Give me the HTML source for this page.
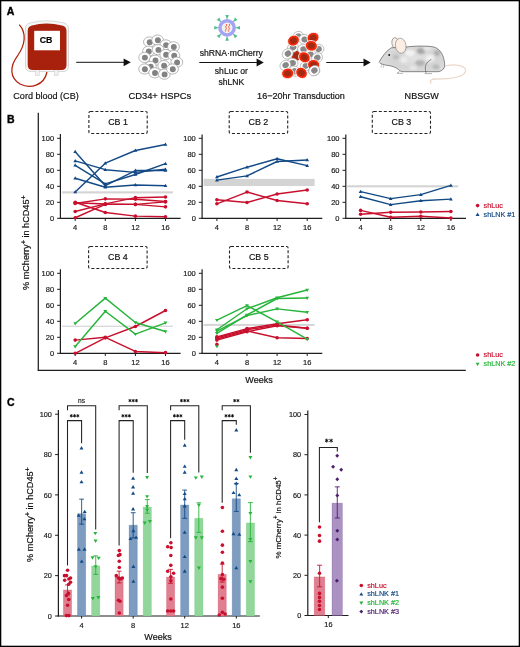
<!DOCTYPE html>
<html><head><meta charset="utf-8"><style>
html,body{margin:0;padding:0;background:#fff;}
svg{display:block;will-change:transform;}
text{font-family:"Liberation Sans",sans-serif;}
</style></head><body>
<svg width="520" height="647" viewBox="0 0 520 647">
<rect x="0.65" y="0.65" width="518.7" height="645.7" fill="#fff" stroke="#000" stroke-width="1.3"/>
<text x="6.8" y="15.2" font-size="10.5" text-anchor="start" fill="#000" font-weight="bold" stroke="#000" stroke-width="0.35" >A</text>
<text x="6.9" y="122.8" font-size="10.5" text-anchor="start" fill="#000" font-weight="bold" stroke="#000" stroke-width="0.35" >B</text>
<text x="6.9" y="406.1" font-size="10.5" text-anchor="start" fill="#000" font-weight="bold" stroke="#000" stroke-width="0.35" >C</text>
<g>
<path d="M19.2 24.6 C27 33 25 45 18 55 C9 67 10 78 20 84 C30 89 44 86 47 72" fill="none" stroke="#b0200c" stroke-width="1.25"/>
<path d="M25.5 29 Q25.5 24 30 23 Q46 18.5 64 23 Q68.5 24 68.5 29 L68.5 66 Q68.5 71.5 63 71.5 L31 71.5 Q25.5 71.5 25.5 66 Z" fill="#f6f6f6" stroke="#d4d4d4" stroke-width="0.9"/>
<rect x="35.6" y="69.5" width="3.6" height="6" fill="#f0f0f0" stroke="#cfcfcf" stroke-width="0.6"/>
<rect x="54.6" y="69.5" width="3.6" height="6" fill="#f0f0f0" stroke="#cfcfcf" stroke-width="0.6"/>
<path d="M27.7 31 Q27.7 26.3 32 25.4 Q46 21.8 62 25.4 Q66.5 26.3 66.5 31 L66.5 65 Q66.5 70 61.5 70 L32.7 70 Q27.7 70 27.7 65 Z" fill="#a8210c"/>
<rect x="34.2" y="30.8" width="25.8" height="19.5" fill="#fff"/>
<text x="46.1" y="43" font-size="8.8" text-anchor="middle" fill="#000" font-weight="bold" stroke="#000" stroke-width="0.18" >CB</text>
</g>
<line x1="76.2" y1="62.3" x2="124.8" y2="62.3" stroke="#111" stroke-width="1.0" />
<path d="M123.6 58.4L130.8 62.3L123.6 66.2Z" fill="#111"/>
<line x1="199.3" y1="62.5" x2="257.8" y2="62.5" stroke="#111" stroke-width="1.0" />
<path d="M256.6 58.6L263.8 62.5L256.6 66.4Z" fill="#111"/>
<line x1="326.3" y1="62.5" x2="364.7" y2="62.5" stroke="#111" stroke-width="1.0" />
<path d="M363.5 58.6L370.7 62.5L363.5 66.4Z" fill="#111"/>
<g>
<ellipse cx="149.4" cy="42" rx="5.9" ry="5.1" fill="#fff" stroke="#9a9a9a" stroke-width="0.7"/>
<circle cx="149.7" cy="42.2" r="2.95" fill="#828282"/>
<ellipse cx="157.6" cy="40.1" rx="5.9" ry="5.1" fill="#fff" stroke="#9a9a9a" stroke-width="0.7"/>
<circle cx="157.9" cy="40.3" r="2.95" fill="#828282"/>
<ellipse cx="165.8" cy="44.9" rx="5.9" ry="5.1" fill="#fff" stroke="#9a9a9a" stroke-width="0.7"/>
<circle cx="166.1" cy="45.1" r="2.95" fill="#828282"/>
<ellipse cx="173.5" cy="46.8" rx="5.9" ry="5.1" fill="#fff" stroke="#9a9a9a" stroke-width="0.7"/>
<circle cx="173.8" cy="47" r="2.95" fill="#828282"/>
<ellipse cx="148.5" cy="51.2" rx="5.9" ry="5.1" fill="#fff" stroke="#9a9a9a" stroke-width="0.7"/>
<circle cx="148.8" cy="51.4" r="2.95" fill="#828282"/>
<ellipse cx="158.1" cy="49.7" rx="5.9" ry="5.1" fill="#fff" stroke="#9a9a9a" stroke-width="0.7"/>
<circle cx="158.4" cy="49.9" r="2.95" fill="#828282"/>
<ellipse cx="165.8" cy="54.5" rx="5.9" ry="5.1" fill="#fff" stroke="#9a9a9a" stroke-width="0.7"/>
<circle cx="166.1" cy="54.7" r="2.95" fill="#828282"/>
<ellipse cx="173.9" cy="55.5" rx="5.9" ry="5.1" fill="#fff" stroke="#9a9a9a" stroke-width="0.7"/>
<circle cx="174.2" cy="55.7" r="2.95" fill="#828282"/>
<ellipse cx="144.6" cy="57.4" rx="5.9" ry="5.1" fill="#fff" stroke="#9a9a9a" stroke-width="0.7"/>
<circle cx="144.9" cy="57.6" r="2.95" fill="#828282"/>
<ellipse cx="155.2" cy="60.3" rx="5.9" ry="5.1" fill="#fff" stroke="#9a9a9a" stroke-width="0.7"/>
<circle cx="155.5" cy="60.5" r="2.95" fill="#828282"/>
<ellipse cx="163.8" cy="65.6" rx="5.9" ry="5.1" fill="#fff" stroke="#9a9a9a" stroke-width="0.7"/>
<circle cx="164.1" cy="65.8" r="2.95" fill="#828282"/>
<ellipse cx="176.8" cy="62.2" rx="5.9" ry="5.1" fill="#fff" stroke="#9a9a9a" stroke-width="0.7"/>
<circle cx="177.1" cy="62.4" r="2.95" fill="#828282"/>
<ellipse cx="150.4" cy="66.5" rx="5.9" ry="5.1" fill="#fff" stroke="#9a9a9a" stroke-width="0.7"/>
<circle cx="150.7" cy="66.7" r="2.95" fill="#828282"/>
<ellipse cx="144.6" cy="69" rx="5.9" ry="5.1" fill="#fff" stroke="#9a9a9a" stroke-width="0.7"/>
<circle cx="144.9" cy="69.2" r="2.95" fill="#828282"/>
<ellipse cx="154.7" cy="72.8" rx="5.9" ry="5.1" fill="#fff" stroke="#9a9a9a" stroke-width="0.7"/>
<circle cx="155" cy="73" r="2.95" fill="#828282"/>
<ellipse cx="164.3" cy="74.2" rx="5.9" ry="5.1" fill="#fff" stroke="#9a9a9a" stroke-width="0.7"/>
<circle cx="164.6" cy="74.4" r="2.95" fill="#828282"/>
<ellipse cx="172.5" cy="69" rx="5.9" ry="5.1" fill="#fff" stroke="#9a9a9a" stroke-width="0.7"/>
<circle cx="172.8" cy="69.2" r="2.95" fill="#828282"/>
</g>
<path d="M227.1 19.8L228.9 14.9L225.3 14.9Z" fill="#52c08e"/>
<path d="M232.76 22.14L237.49 19.95L234.95 17.41Z" fill="#52c08e"/>
<path d="M235.1 27.8L240 29.6L240 26Z" fill="#52c08e"/>
<path d="M232.76 33.46L234.95 38.19L237.49 35.65Z" fill="#52c08e"/>
<path d="M227.1 35.8L225.3 40.7L228.9 40.7Z" fill="#52c08e"/>
<path d="M221.44 33.46L216.71 35.65L219.25 38.19Z" fill="#52c08e"/>
<path d="M219.1 27.8L214.2 26L214.2 29.6Z" fill="#52c08e"/>
<path d="M221.44 22.14L219.25 17.41L216.71 19.95Z" fill="#52c08e"/>
<circle cx="227.1" cy="27.8" r="8.9" fill="#a4a4f4"/>
<circle cx="227.1" cy="27.8" r="5.4" fill="#f3f0ec"/>
<path d="M226.3 24 q1.1 0.95 -0.15 1.9 q-1.1 0.95 -0.15 1.9 q1.1 0.95 -0.15 1.9 q-1.1 0.95 -0.15 1.9" fill="none" stroke="#ee4b2b" stroke-width="0.9"/>
<path d="M229.3 24 q1.1 0.95 -0.15 1.9 q-1.1 0.95 -0.15 1.9 q1.1 0.95 -0.15 1.9 q-1.1 0.95 -0.15 1.9" fill="none" stroke="#ee4b2b" stroke-width="0.9"/>
<text x="231.3" y="55.6" font-size="8.6" text-anchor="middle" fill="#111" stroke="#111" stroke-width="0.18" >shRNA·mCherry</text>
<text x="231.3" y="73.8" font-size="8.6" text-anchor="middle" fill="#111" stroke="#111" stroke-width="0.18" >shLuc or</text>
<text x="231.3" y="84.6" font-size="8.6" text-anchor="middle" fill="#111" stroke="#111" stroke-width="0.18" >shLNK</text>
<g transform="translate(296.9 55.6) rotate(-14.09)"><ellipse rx="6.1" ry="5.3" fill="#c8280c" stroke="#fff" stroke-width="0.8"/><ellipse rx="3.5" ry="3" fill="#a12a12"/></g>
<g transform="translate(298 36.5) rotate(-27.93)"><ellipse rx="5.7" ry="4.9" fill="#fff" stroke="#9c9c9c" stroke-width="0.6"/><ellipse cx="0.3" rx="3.3" ry="3" fill="#888"/></g>
<g transform="translate(304.4 39.4) rotate(12.07)"><ellipse rx="5.7" ry="4.9" fill="#fff" stroke="#9c9c9c" stroke-width="0.6"/><ellipse cx="0.3" rx="3.3" ry="3" fill="#888"/></g>
<g transform="translate(292.9 47.5) rotate(-34.21)"><ellipse rx="5.7" ry="4.9" fill="#fff" stroke="#9c9c9c" stroke-width="0.6"/><ellipse cx="0.3" rx="3.3" ry="3" fill="#888"/></g>
<g transform="translate(303.3 49.2) rotate(2.87)"><ellipse rx="5.7" ry="4.9" fill="#fff" stroke="#9c9c9c" stroke-width="0.6"/><ellipse cx="0.3" rx="3.3" ry="3" fill="#888"/></g>
<g transform="translate(318.3 49.2) rotate(-10.74)"><ellipse rx="5.7" ry="4.9" fill="#fff" stroke="#9c9c9c" stroke-width="0.6"/><ellipse cx="0.3" rx="3.3" ry="3" fill="#888"/></g>
<g transform="translate(287.7 53.8) rotate(-35.36)"><ellipse rx="5.7" ry="4.9" fill="#fff" stroke="#9c9c9c" stroke-width="0.6"/><ellipse cx="0.3" rx="3.3" ry="3" fill="#888"/></g>
<g transform="translate(310.2 54.4) rotate(0.59)"><ellipse rx="5.7" ry="4.9" fill="#fff" stroke="#9c9c9c" stroke-width="0.6"/><ellipse cx="0.3" rx="3.3" ry="3" fill="#888"/></g>
<g transform="translate(317.1 57.9) rotate(-37)"><ellipse rx="5.7" ry="4.9" fill="#fff" stroke="#9c9c9c" stroke-width="0.6"/><ellipse cx="0.3" rx="3.3" ry="3" fill="#888"/></g>
<g transform="translate(292.3 63.1) rotate(-5.31)"><ellipse rx="5.7" ry="4.9" fill="#fff" stroke="#9c9c9c" stroke-width="0.6"/><ellipse cx="0.3" rx="3.3" ry="3" fill="#888"/></g>
<g transform="translate(285.4 65.4) rotate(-34.41)"><ellipse rx="5.7" ry="4.9" fill="#fff" stroke="#9c9c9c" stroke-width="0.6"/><ellipse cx="0.3" rx="3.3" ry="3" fill="#888"/></g>
<g transform="translate(305.6 66) rotate(-32.74)"><ellipse rx="5.7" ry="4.9" fill="#fff" stroke="#9c9c9c" stroke-width="0.6"/><ellipse cx="0.3" rx="3.3" ry="3" fill="#888"/></g>
<g transform="translate(314.2 70.6) rotate(-6.04)"><ellipse rx="5.7" ry="4.9" fill="#fff" stroke="#9c9c9c" stroke-width="0.6"/><ellipse cx="0.3" rx="3.3" ry="3" fill="#888"/></g>
<g transform="translate(294.6 71.1) rotate(26.15)"><ellipse rx="5.7" ry="4.9" fill="#fff" stroke="#9c9c9c" stroke-width="0.6"/><ellipse cx="0.3" rx="3.3" ry="3" fill="#888"/></g>
<g transform="translate(293.5 40.6) rotate(-30.1)"><ellipse rx="6.1" ry="5.3" fill="#f5280a" stroke="#fff" stroke-width="0.8"/><ellipse rx="3.5" ry="3" fill="#a12a12"/></g>
<g transform="translate(313 37.7) rotate(-22.14)"><ellipse rx="6.1" ry="5.3" fill="#f5280a" stroke="#fff" stroke-width="0.8"/><ellipse rx="3.5" ry="3" fill="#a12a12"/></g>
<g transform="translate(311.3 45.8) rotate(10.19)"><ellipse rx="6.1" ry="5.3" fill="#f5280a" stroke="#fff" stroke-width="0.8"/><ellipse rx="3.5" ry="3" fill="#a12a12"/></g>
<g transform="translate(304.4 57.3) rotate(35.82)"><ellipse rx="6.1" ry="5.3" fill="#f5280a" stroke="#fff" stroke-width="0.8"/><ellipse rx="3.5" ry="3" fill="#a12a12"/></g>
<g transform="translate(313.6 64.8) rotate(6.17)"><ellipse rx="6.1" ry="5.3" fill="#f5280a" stroke="#fff" stroke-width="0.8"/><ellipse rx="3.5" ry="3" fill="#a12a12"/></g>
<g transform="translate(287.7 73.4) rotate(-8.27)"><ellipse rx="6.1" ry="5.3" fill="#f5280a" stroke="#fff" stroke-width="0.8"/><ellipse rx="3.5" ry="3" fill="#a12a12"/></g>
<g transform="translate(301.5 72.9) rotate(38.1)"><ellipse rx="6.1" ry="5.3" fill="#f5280a" stroke="#fff" stroke-width="0.8"/><ellipse rx="3.5" ry="3" fill="#a12a12"/></g>
<g transform="translate(314.2 70.6) rotate(-36.27)"><ellipse rx="5.7" ry="4.9" fill="#fff" stroke="#9c9c9c" stroke-width="0.6"/><ellipse cx="0.3" rx="3.3" ry="3" fill="#888"/></g>
<g>
<path d="M443 66.5 C455 63 468 66 465.3 72 C462.5 78 450 79 436 79 C431 79 429 81 431 83" fill="none" stroke="#ecd8ca" stroke-width="1.3" stroke-linecap="round"/>
<ellipse cx="395.8" cy="43.6" rx="3.8" ry="6" transform="rotate(-14 395.8 43.6)" fill="#fbefe6" stroke="#555" stroke-width="0.5"/>
<defs><radialGradient id="mg" cx="0.55" cy="0.5" r="0.6"><stop offset="0" stop-color="#e2e2e2"/><stop offset="0.6" stop-color="#d4d4d4"/><stop offset="1" stop-color="#dedede"/></radialGradient><filter id="bl" x="-0.2" y="-0.2" width="1.4" height="1.4"><feGaussianBlur stdDeviation="1.1"/></filter><clipPath id="mc"><path d="M379 62.3 C382 57 386 51 391.2 47.8 L405.8 47.1 C412 46 428 45.5 434.2 47.1 C440 49 444 55 444.6 63.7 C445 68 443 71 438 71.7 L403.7 71.7 C400 71.7 399 70 398.2 69.2 C395 67 392 66 388 65.5 C384 65 381 64 379 62.3 Z"/></clipPath></defs>
<path d="M379 62.3 C382 57 386 51 391.2 47.8 L405.8 47.1 C412 46 428 45.5 434.2 47.1 C440 49 444 55 444.6 63.7 C445 68 443 71 438 71.7 L403.7 71.7 C400 71.7 399 70 398.2 69.2 C395 67 392 66 388 65.5 C384 65 381 64 379 62.3 Z" fill="url(#mg)"/>
<g clip-path="url(#mc)"><g filter="url(#bl)">
<ellipse cx="410" cy="53" rx="5" ry="3.5" fill="#f2f2f2"/>
<ellipse cx="421" cy="51" rx="4" ry="3" fill="#a6a6a6"/>
<ellipse cx="430" cy="58" rx="4.5" ry="3.5" fill="#f0f0f0"/>
<ellipse cx="420" cy="63" rx="5" ry="3" fill="#b2b2b2"/>
<ellipse cx="404" cy="60" rx="3.5" ry="3" fill="#ececec"/>
<ellipse cx="437" cy="53" rx="3" ry="3" fill="#b0b0b0"/>
<ellipse cx="413" cy="68" rx="4" ry="2.2" fill="#e6e6e6"/>
<ellipse cx="436" cy="67" rx="3.5" ry="2.5" fill="#b8b8b8"/>
<ellipse cx="396" cy="57" rx="3" ry="2.5" fill="#bdbdbd"/>
<ellipse cx="427" cy="48.5" rx="4" ry="2" fill="#e8e8e8"/>
</g></g>
<path d="M379 62.3 C382 57 386 51 391.2 47.8 L405.8 47.1 C412 46 428 45.5 434.2 47.1 C440 49 444 55 444.6 63.7 C445 68 443 71 438 71.7 L403.7 71.7 C400 71.7 399 70 398.2 69.2 C395 67 392 66 388 65.5 C384 65 381 64 379 62.3 Z" fill="none" stroke="#333" stroke-width="0.55"/>
<path d="M425.9 72 C424.5 67 425.5 62 431.4 59.5" fill="none" stroke="#333" stroke-width="0.5"/>
<path d="M399.5 71.5 L397 73.3 L403 73.3" fill="none" stroke="#666" stroke-width="0.5"/>
<path d="M426.5 72 L425 73.6 L432 73.6" fill="none" stroke="#666" stroke-width="0.5"/>
<ellipse cx="400.7" cy="45.7" rx="5.3" ry="7.6" transform="rotate(-8 400.7 45.7)" fill="#fdeee4" stroke="#666" stroke-width="0.5"/>
<circle cx="389.2" cy="55" r="0.95" fill="#111"/>
<circle cx="379.2" cy="62.5" r="0.8" fill="#f0cfc2"/>
<path d="M381.6 63.8 L381 67.8 M383.4 64.2 L383.3 68.3" stroke="#888" stroke-width="0.45"/>
</g>
<text x="46" y="99" font-size="9.05" text-anchor="middle" fill="#111" stroke="#111" stroke-width="0.18" >Cord blood (CB)</text>
<text x="159.8" y="99" font-size="9.4" text-anchor="middle" fill="#111" stroke="#111" stroke-width="0.18" >CD34+ HSPCs</text>
<text x="301" y="99" font-size="9.05" text-anchor="middle" fill="#111" stroke="#111" stroke-width="0.18" >16−20hr Transduction</text>
<text x="421.7" y="99" font-size="9.05" text-anchor="middle" fill="#111" stroke="#111" stroke-width="0.18" >NBSGW</text>
<rect x="88.9" y="111.5" width="58.3" height="22" rx="1.5" fill="none" stroke="#222" stroke-width="1.1" stroke-dasharray="3 2"/>
<text x="118.05" y="125.1" font-size="8.9" text-anchor="middle" fill="#111" stroke="#111" stroke-width="0.18" >CB 1</text>
<rect x="61.9" y="191.33" width="111" height="2.1" fill="#d4d4d4"/>
<line x1="60.4" y1="134" x2="60.4" y2="218.9" stroke="#1e1e1e" stroke-width="1.2" />
<line x1="59.8" y1="218.3" x2="180.6" y2="218.3" stroke="#1e1e1e" stroke-width="1.2" />
<line x1="57.1" y1="218.3" x2="60.4" y2="218.3" stroke="#1e1e1e" stroke-width="1.0" />
<text x="54.1" y="221" font-size="7.5" text-anchor="end" fill="#1a1a1a" stroke="#1a1a1a" stroke-width="0.18" >0</text>
<line x1="57.1" y1="202.3" x2="60.4" y2="202.3" stroke="#1e1e1e" stroke-width="1.0" />
<text x="54.1" y="205" font-size="7.5" text-anchor="end" fill="#1a1a1a" stroke="#1a1a1a" stroke-width="0.18" >20</text>
<line x1="57.1" y1="186.3" x2="60.4" y2="186.3" stroke="#1e1e1e" stroke-width="1.0" />
<text x="54.1" y="189" font-size="7.5" text-anchor="end" fill="#1a1a1a" stroke="#1a1a1a" stroke-width="0.18" >40</text>
<line x1="57.1" y1="170.3" x2="60.4" y2="170.3" stroke="#1e1e1e" stroke-width="1.0" />
<text x="54.1" y="173" font-size="7.5" text-anchor="end" fill="#1a1a1a" stroke="#1a1a1a" stroke-width="0.18" >60</text>
<line x1="57.1" y1="154.3" x2="60.4" y2="154.3" stroke="#1e1e1e" stroke-width="1.0" />
<text x="54.1" y="157" font-size="7.5" text-anchor="end" fill="#1a1a1a" stroke="#1a1a1a" stroke-width="0.18" >80</text>
<line x1="57.1" y1="138.3" x2="60.4" y2="138.3" stroke="#1e1e1e" stroke-width="1.0" />
<text x="54.1" y="141" font-size="7.5" text-anchor="end" fill="#1a1a1a" stroke="#1a1a1a" stroke-width="0.18" >100</text>
<line x1="75.2" y1="218.3" x2="75.2" y2="221" stroke="#1e1e1e" stroke-width="1.0" />
<text x="75.2" y="230" font-size="7.5" text-anchor="middle" fill="#1a1a1a" stroke="#1a1a1a" stroke-width="0.18" >4</text>
<line x1="105.3" y1="218.3" x2="105.3" y2="221" stroke="#1e1e1e" stroke-width="1.0" />
<text x="105.3" y="230" font-size="7.5" text-anchor="middle" fill="#1a1a1a" stroke="#1a1a1a" stroke-width="0.18" >8</text>
<line x1="135.4" y1="218.3" x2="135.4" y2="221" stroke="#1e1e1e" stroke-width="1.0" />
<text x="135.4" y="230" font-size="7.5" text-anchor="middle" fill="#1a1a1a" stroke="#1a1a1a" stroke-width="0.18" >12</text>
<line x1="165.5" y1="218.3" x2="165.5" y2="221" stroke="#1e1e1e" stroke-width="1.0" />
<text x="165.5" y="230" font-size="7.5" text-anchor="middle" fill="#1a1a1a" stroke="#1a1a1a" stroke-width="0.18" >16</text>
<path d="M75.2 202.3 L105.3 212.46 L135.4 216.14 L165.5 216.78" fill="none" stroke="#c8102e" stroke-width="1.45" stroke-linejoin="round"/>
<circle cx="75.2" cy="202.3" r="1.8" fill="#c8102e"/>
<circle cx="105.3" cy="212.46" r="1.8" fill="#c8102e"/>
<circle cx="135.4" cy="216.14" r="1.8" fill="#c8102e"/>
<circle cx="165.5" cy="216.78" r="1.8" fill="#c8102e"/>
<path d="M75.2 203.42 L105.3 198.86 L135.4 199.26 L165.5 201.5" fill="none" stroke="#c8102e" stroke-width="1.45" stroke-linejoin="round"/>
<circle cx="75.2" cy="203.42" r="1.8" fill="#c8102e"/>
<circle cx="105.3" cy="198.86" r="1.8" fill="#c8102e"/>
<circle cx="135.4" cy="199.26" r="1.8" fill="#c8102e"/>
<circle cx="165.5" cy="201.5" r="1.8" fill="#c8102e"/>
<path d="M75.2 211.5 L105.3 203.9 L135.4 197.66 L165.5 196.94" fill="none" stroke="#c8102e" stroke-width="1.45" stroke-linejoin="round"/>
<circle cx="75.2" cy="211.5" r="1.8" fill="#c8102e"/>
<circle cx="105.3" cy="203.9" r="1.8" fill="#c8102e"/>
<circle cx="135.4" cy="197.66" r="1.8" fill="#c8102e"/>
<circle cx="165.5" cy="196.94" r="1.8" fill="#c8102e"/>
<path d="M75.2 217.74 L105.3 204.38 L135.4 204.38 L165.5 206.86" fill="none" stroke="#c8102e" stroke-width="1.45" stroke-linejoin="round"/>
<circle cx="75.2" cy="217.74" r="1.8" fill="#c8102e"/>
<circle cx="105.3" cy="204.38" r="1.8" fill="#c8102e"/>
<circle cx="135.4" cy="204.38" r="1.8" fill="#c8102e"/>
<circle cx="165.5" cy="206.86" r="1.8" fill="#c8102e"/>
<path d="M75.2 202.7 L105.3 204.06 L135.4 204.38 L165.5 201.9" fill="none" stroke="#c8102e" stroke-width="1.45" stroke-linejoin="round"/>
<circle cx="75.2" cy="202.7" r="1.8" fill="#c8102e"/>
<circle cx="105.3" cy="204.06" r="1.8" fill="#c8102e"/>
<circle cx="135.4" cy="204.38" r="1.8" fill="#c8102e"/>
<circle cx="165.5" cy="201.9" r="1.8" fill="#c8102e"/>
<path d="M75.2 191.9 L105.3 163.18 L135.4 150.54 L165.5 144.54" fill="none" stroke="#134a86" stroke-width="1.45" stroke-linejoin="round"/>
<path d="M75.2 189.96L77.1 193.19L73.3 193.19Z" fill="#134a86"/>
<path d="M105.3 161.24L107.2 164.47L103.4 164.47Z" fill="#134a86"/>
<path d="M135.4 148.6L137.3 151.83L133.5 151.83Z" fill="#134a86"/>
<path d="M165.5 142.6L167.4 145.83L163.6 145.83Z" fill="#134a86"/>
<path d="M75.2 160.86 L105.3 169.66 L135.4 172.38 L165.5 169.34" fill="none" stroke="#134a86" stroke-width="1.45" stroke-linejoin="round"/>
<path d="M75.2 158.92L77.1 162.15L73.3 162.15Z" fill="#134a86"/>
<path d="M105.3 167.72L107.2 170.95L103.4 170.95Z" fill="#134a86"/>
<path d="M135.4 170.44L137.3 173.67L133.5 173.67Z" fill="#134a86"/>
<path d="M165.5 167.4L167.4 170.63L163.6 170.63Z" fill="#134a86"/>
<path d="M75.2 151.74 L105.3 185.66 L135.4 170.54 L165.5 170.54" fill="none" stroke="#134a86" stroke-width="1.45" stroke-linejoin="round"/>
<path d="M75.2 149.8L77.1 153.03L73.3 153.03Z" fill="#134a86"/>
<path d="M105.3 183.72L107.2 186.95L103.4 186.95Z" fill="#134a86"/>
<path d="M135.4 168.6L137.3 171.83L133.5 171.83Z" fill="#134a86"/>
<path d="M165.5 168.6L167.4 171.83L163.6 171.83Z" fill="#134a86"/>
<path d="M75.2 165.26 L105.3 183.9 L135.4 174.46 L165.5 163.66" fill="none" stroke="#134a86" stroke-width="1.45" stroke-linejoin="round"/>
<path d="M75.2 163.32L77.1 166.55L73.3 166.55Z" fill="#134a86"/>
<path d="M105.3 181.96L107.2 185.19L103.4 185.19Z" fill="#134a86"/>
<path d="M135.4 172.52L137.3 175.75L133.5 175.75Z" fill="#134a86"/>
<path d="M165.5 161.72L167.4 164.95L163.6 164.95Z" fill="#134a86"/>
<path d="M75.2 178.3 L105.3 187.26 L135.4 185.02 L165.5 185.66" fill="none" stroke="#134a86" stroke-width="1.45" stroke-linejoin="round"/>
<path d="M75.2 176.36L77.1 179.59L73.3 179.59Z" fill="#134a86"/>
<path d="M105.3 185.32L107.2 188.55L103.4 188.55Z" fill="#134a86"/>
<path d="M135.4 183.08L137.3 186.31L133.5 186.31Z" fill="#134a86"/>
<path d="M165.5 183.72L167.4 186.95L163.6 186.95Z" fill="#134a86"/>
<rect x="229.2" y="111.5" width="58.5" height="22" rx="1.5" fill="none" stroke="#222" stroke-width="1.1" stroke-dasharray="3 2"/>
<text x="258.45" y="125.1" font-size="8.9" text-anchor="middle" fill="#111" stroke="#111" stroke-width="0.18" >CB 2</text>
<rect x="203.6" y="178.86" width="111" height="7.12" fill="#d4d4d4"/>
<line x1="202.1" y1="134.4" x2="202.1" y2="218.9" stroke="#1e1e1e" stroke-width="1.2" />
<line x1="201.5" y1="218.3" x2="322.3" y2="218.3" stroke="#1e1e1e" stroke-width="1.2" />
<line x1="198.8" y1="218.3" x2="202.1" y2="218.3" stroke="#1e1e1e" stroke-width="1.0" />
<text x="195.8" y="221" font-size="7.5" text-anchor="end" fill="#1a1a1a" stroke="#1a1a1a" stroke-width="0.18" >0</text>
<line x1="198.8" y1="202.3" x2="202.1" y2="202.3" stroke="#1e1e1e" stroke-width="1.0" />
<text x="195.8" y="205" font-size="7.5" text-anchor="end" fill="#1a1a1a" stroke="#1a1a1a" stroke-width="0.18" >20</text>
<line x1="198.8" y1="186.3" x2="202.1" y2="186.3" stroke="#1e1e1e" stroke-width="1.0" />
<text x="195.8" y="189" font-size="7.5" text-anchor="end" fill="#1a1a1a" stroke="#1a1a1a" stroke-width="0.18" >40</text>
<line x1="198.8" y1="170.3" x2="202.1" y2="170.3" stroke="#1e1e1e" stroke-width="1.0" />
<text x="195.8" y="173" font-size="7.5" text-anchor="end" fill="#1a1a1a" stroke="#1a1a1a" stroke-width="0.18" >60</text>
<line x1="198.8" y1="154.3" x2="202.1" y2="154.3" stroke="#1e1e1e" stroke-width="1.0" />
<text x="195.8" y="157" font-size="7.5" text-anchor="end" fill="#1a1a1a" stroke="#1a1a1a" stroke-width="0.18" >80</text>
<line x1="198.8" y1="138.3" x2="202.1" y2="138.3" stroke="#1e1e1e" stroke-width="1.0" />
<text x="195.8" y="141" font-size="7.5" text-anchor="end" fill="#1a1a1a" stroke="#1a1a1a" stroke-width="0.18" >100</text>
<line x1="216.9" y1="218.3" x2="216.9" y2="221" stroke="#1e1e1e" stroke-width="1.0" />
<text x="216.9" y="230" font-size="7.5" text-anchor="middle" fill="#1a1a1a" stroke="#1a1a1a" stroke-width="0.18" >4</text>
<line x1="247" y1="218.3" x2="247" y2="221" stroke="#1e1e1e" stroke-width="1.0" />
<text x="247" y="230" font-size="7.5" text-anchor="middle" fill="#1a1a1a" stroke="#1a1a1a" stroke-width="0.18" >8</text>
<line x1="277.1" y1="218.3" x2="277.1" y2="221" stroke="#1e1e1e" stroke-width="1.0" />
<text x="277.1" y="230" font-size="7.5" text-anchor="middle" fill="#1a1a1a" stroke="#1a1a1a" stroke-width="0.18" >12</text>
<line x1="307.2" y1="218.3" x2="307.2" y2="221" stroke="#1e1e1e" stroke-width="1.0" />
<text x="307.2" y="230" font-size="7.5" text-anchor="middle" fill="#1a1a1a" stroke="#1a1a1a" stroke-width="0.18" >16</text>
<path d="M216.9 199.82 L247 202.54 L277.1 194.06 L307.2 190.06" fill="none" stroke="#c8102e" stroke-width="1.45" stroke-linejoin="round"/>
<circle cx="216.9" cy="199.82" r="1.8" fill="#c8102e"/>
<circle cx="247" cy="202.54" r="1.8" fill="#c8102e"/>
<circle cx="277.1" cy="194.06" r="1.8" fill="#c8102e"/>
<circle cx="307.2" cy="190.06" r="1.8" fill="#c8102e"/>
<path d="M216.9 203.82 L247 192.06 L277.1 200.54 L307.2 203.82" fill="none" stroke="#c8102e" stroke-width="1.45" stroke-linejoin="round"/>
<circle cx="216.9" cy="203.82" r="1.8" fill="#c8102e"/>
<circle cx="247" cy="192.06" r="1.8" fill="#c8102e"/>
<circle cx="277.1" cy="200.54" r="1.8" fill="#c8102e"/>
<circle cx="307.2" cy="203.82" r="1.8" fill="#c8102e"/>
<path d="M216.9 176.94 L247 167.18 L277.1 158.7 L307.2 165.66" fill="none" stroke="#134a86" stroke-width="1.45" stroke-linejoin="round"/>
<path d="M216.9 175L218.8 178.23L215 178.23Z" fill="#134a86"/>
<path d="M247 165.24L248.9 168.47L245.1 168.47Z" fill="#134a86"/>
<path d="M277.1 156.76L279 159.99L275.2 159.99Z" fill="#134a86"/>
<path d="M307.2 163.72L309.1 166.95L305.3 166.95Z" fill="#134a86"/>
<path d="M216.9 180.14 L247 175.9 L277.1 161.5 L307.2 159.98" fill="none" stroke="#134a86" stroke-width="1.45" stroke-linejoin="round"/>
<path d="M216.9 178.2L218.8 181.43L215 181.43Z" fill="#134a86"/>
<path d="M247 173.96L248.9 177.19L245.1 177.19Z" fill="#134a86"/>
<path d="M277.1 159.56L279 162.79L275.2 162.79Z" fill="#134a86"/>
<path d="M307.2 158.04L309.1 161.27L305.3 161.27Z" fill="#134a86"/>
<rect x="372.3" y="111.5" width="58.2" height="22" rx="1.5" fill="none" stroke="#222" stroke-width="1.1" stroke-dasharray="3 2"/>
<text x="401.4" y="125.1" font-size="8.9" text-anchor="middle" fill="#111" stroke="#111" stroke-width="0.18" >CB 3</text>
<rect x="347.3" y="185.25" width="111" height="2.1" fill="#d4d4d4"/>
<line x1="345.8" y1="134.4" x2="345.8" y2="218.9" stroke="#1e1e1e" stroke-width="1.2" />
<line x1="345.2" y1="218.3" x2="466" y2="218.3" stroke="#1e1e1e" stroke-width="1.2" />
<line x1="342.5" y1="218.3" x2="345.8" y2="218.3" stroke="#1e1e1e" stroke-width="1.0" />
<text x="339.5" y="221" font-size="7.5" text-anchor="end" fill="#1a1a1a" stroke="#1a1a1a" stroke-width="0.18" >0</text>
<line x1="342.5" y1="202.3" x2="345.8" y2="202.3" stroke="#1e1e1e" stroke-width="1.0" />
<text x="339.5" y="205" font-size="7.5" text-anchor="end" fill="#1a1a1a" stroke="#1a1a1a" stroke-width="0.18" >20</text>
<line x1="342.5" y1="186.3" x2="345.8" y2="186.3" stroke="#1e1e1e" stroke-width="1.0" />
<text x="339.5" y="189" font-size="7.5" text-anchor="end" fill="#1a1a1a" stroke="#1a1a1a" stroke-width="0.18" >40</text>
<line x1="342.5" y1="170.3" x2="345.8" y2="170.3" stroke="#1e1e1e" stroke-width="1.0" />
<text x="339.5" y="173" font-size="7.5" text-anchor="end" fill="#1a1a1a" stroke="#1a1a1a" stroke-width="0.18" >60</text>
<line x1="342.5" y1="154.3" x2="345.8" y2="154.3" stroke="#1e1e1e" stroke-width="1.0" />
<text x="339.5" y="157" font-size="7.5" text-anchor="end" fill="#1a1a1a" stroke="#1a1a1a" stroke-width="0.18" >80</text>
<line x1="342.5" y1="138.3" x2="345.8" y2="138.3" stroke="#1e1e1e" stroke-width="1.0" />
<text x="339.5" y="141" font-size="7.5" text-anchor="end" fill="#1a1a1a" stroke="#1a1a1a" stroke-width="0.18" >100</text>
<line x1="360.6" y1="218.3" x2="360.6" y2="221" stroke="#1e1e1e" stroke-width="1.0" />
<text x="360.6" y="230" font-size="7.5" text-anchor="middle" fill="#1a1a1a" stroke="#1a1a1a" stroke-width="0.18" >4</text>
<line x1="390.7" y1="218.3" x2="390.7" y2="221" stroke="#1e1e1e" stroke-width="1.0" />
<text x="390.7" y="230" font-size="7.5" text-anchor="middle" fill="#1a1a1a" stroke="#1a1a1a" stroke-width="0.18" >8</text>
<line x1="420.8" y1="218.3" x2="420.8" y2="221" stroke="#1e1e1e" stroke-width="1.0" />
<text x="420.8" y="230" font-size="7.5" text-anchor="middle" fill="#1a1a1a" stroke="#1a1a1a" stroke-width="0.18" >12</text>
<line x1="450.9" y1="218.3" x2="450.9" y2="221" stroke="#1e1e1e" stroke-width="1.0" />
<text x="450.9" y="230" font-size="7.5" text-anchor="middle" fill="#1a1a1a" stroke="#1a1a1a" stroke-width="0.18" >16</text>
<path d="M360.6 210.38 L390.7 217.18 L420.8 216.22 L450.9 218.06" fill="none" stroke="#c8102e" stroke-width="1.45" stroke-linejoin="round"/>
<circle cx="360.6" cy="210.38" r="1.8" fill="#c8102e"/>
<circle cx="390.7" cy="217.18" r="1.8" fill="#c8102e"/>
<circle cx="420.8" cy="216.22" r="1.8" fill="#c8102e"/>
<circle cx="450.9" cy="218.06" r="1.8" fill="#c8102e"/>
<path d="M360.6 214.22 L390.7 212.3 L420.8 212.06 L450.9 211.5" fill="none" stroke="#c8102e" stroke-width="1.45" stroke-linejoin="round"/>
<circle cx="360.6" cy="214.22" r="1.8" fill="#c8102e"/>
<circle cx="390.7" cy="212.3" r="1.8" fill="#c8102e"/>
<circle cx="420.8" cy="212.06" r="1.8" fill="#c8102e"/>
<circle cx="450.9" cy="211.5" r="1.8" fill="#c8102e"/>
<path d="M360.6 191.66 L390.7 198.62 L420.8 194.62 L450.9 185.34" fill="none" stroke="#134a86" stroke-width="1.45" stroke-linejoin="round"/>
<path d="M360.6 189.72L362.5 192.95L358.7 192.95Z" fill="#134a86"/>
<path d="M390.7 196.68L392.6 199.91L388.8 199.91Z" fill="#134a86"/>
<path d="M420.8 192.68L422.7 195.91L418.9 195.91Z" fill="#134a86"/>
<path d="M450.9 183.4L452.8 186.63L449 186.63Z" fill="#134a86"/>
<path d="M360.6 196.7 L390.7 204.62 L420.8 200.7 L450.9 199.1" fill="none" stroke="#134a86" stroke-width="1.45" stroke-linejoin="round"/>
<path d="M360.6 194.76L362.5 197.99L358.7 197.99Z" fill="#134a86"/>
<path d="M390.7 202.68L392.6 205.91L388.8 205.91Z" fill="#134a86"/>
<path d="M420.8 198.76L422.7 201.99L418.9 201.99Z" fill="#134a86"/>
<path d="M450.9 197.16L452.8 200.39L449 200.39Z" fill="#134a86"/>
<rect x="88.6" y="246.5" width="58.5" height="22" rx="1.5" fill="none" stroke="#222" stroke-width="1.1" stroke-dasharray="3 2"/>
<text x="117.85" y="260.1" font-size="8.9" text-anchor="middle" fill="#111" stroke="#111" stroke-width="0.18" >CB 4</text>
<rect x="61.9" y="325.66" width="111" height="1.2" fill="#d4d4d4"/>
<line x1="60.4" y1="269.2" x2="60.4" y2="353.9" stroke="#1e1e1e" stroke-width="1.2" />
<line x1="59.8" y1="353.3" x2="180.6" y2="353.3" stroke="#1e1e1e" stroke-width="1.2" />
<line x1="57.1" y1="353.3" x2="60.4" y2="353.3" stroke="#1e1e1e" stroke-width="1.0" />
<text x="54.1" y="356" font-size="7.5" text-anchor="end" fill="#1a1a1a" stroke="#1a1a1a" stroke-width="0.18" >0</text>
<line x1="57.1" y1="337.3" x2="60.4" y2="337.3" stroke="#1e1e1e" stroke-width="1.0" />
<text x="54.1" y="340" font-size="7.5" text-anchor="end" fill="#1a1a1a" stroke="#1a1a1a" stroke-width="0.18" >20</text>
<line x1="57.1" y1="321.3" x2="60.4" y2="321.3" stroke="#1e1e1e" stroke-width="1.0" />
<text x="54.1" y="324" font-size="7.5" text-anchor="end" fill="#1a1a1a" stroke="#1a1a1a" stroke-width="0.18" >40</text>
<line x1="57.1" y1="305.3" x2="60.4" y2="305.3" stroke="#1e1e1e" stroke-width="1.0" />
<text x="54.1" y="308" font-size="7.5" text-anchor="end" fill="#1a1a1a" stroke="#1a1a1a" stroke-width="0.18" >60</text>
<line x1="57.1" y1="289.3" x2="60.4" y2="289.3" stroke="#1e1e1e" stroke-width="1.0" />
<text x="54.1" y="292" font-size="7.5" text-anchor="end" fill="#1a1a1a" stroke="#1a1a1a" stroke-width="0.18" >80</text>
<line x1="57.1" y1="273.3" x2="60.4" y2="273.3" stroke="#1e1e1e" stroke-width="1.0" />
<text x="54.1" y="276" font-size="7.5" text-anchor="end" fill="#1a1a1a" stroke="#1a1a1a" stroke-width="0.18" >100</text>
<line x1="75.2" y1="353.3" x2="75.2" y2="356" stroke="#1e1e1e" stroke-width="1.0" />
<text x="75.2" y="365" font-size="7.5" text-anchor="middle" fill="#1a1a1a" stroke="#1a1a1a" stroke-width="0.18" >4</text>
<line x1="105.3" y1="353.3" x2="105.3" y2="356" stroke="#1e1e1e" stroke-width="1.0" />
<text x="105.3" y="365" font-size="7.5" text-anchor="middle" fill="#1a1a1a" stroke="#1a1a1a" stroke-width="0.18" >8</text>
<line x1="135.4" y1="353.3" x2="135.4" y2="356" stroke="#1e1e1e" stroke-width="1.0" />
<text x="135.4" y="365" font-size="7.5" text-anchor="middle" fill="#1a1a1a" stroke="#1a1a1a" stroke-width="0.18" >12</text>
<line x1="165.5" y1="353.3" x2="165.5" y2="356" stroke="#1e1e1e" stroke-width="1.0" />
<text x="165.5" y="365" font-size="7.5" text-anchor="middle" fill="#1a1a1a" stroke="#1a1a1a" stroke-width="0.18" >16</text>
<path d="M75.2 340.1 L105.3 337.3 L135.4 351.46 L165.5 352.66" fill="none" stroke="#c8102e" stroke-width="1.45" stroke-linejoin="round"/>
<circle cx="75.2" cy="340.1" r="1.8" fill="#c8102e"/>
<circle cx="105.3" cy="337.3" r="1.8" fill="#c8102e"/>
<circle cx="135.4" cy="351.46" r="1.8" fill="#c8102e"/>
<circle cx="165.5" cy="352.66" r="1.8" fill="#c8102e"/>
<path d="M75.2 353.3 L105.3 337.86 L135.4 326.5 L165.5 310.5" fill="none" stroke="#c8102e" stroke-width="1.45" stroke-linejoin="round"/>
<circle cx="75.2" cy="353.3" r="1.8" fill="#c8102e"/>
<circle cx="105.3" cy="337.86" r="1.8" fill="#c8102e"/>
<circle cx="135.4" cy="326.5" r="1.8" fill="#c8102e"/>
<circle cx="165.5" cy="310.5" r="1.8" fill="#c8102e"/>
<path d="M75.2 323.46 L105.3 298.18 L135.4 322.5 L165.5 331.46" fill="none" stroke="#27b43a" stroke-width="1.45" stroke-linejoin="round"/>
<path d="M75.2 325.4L77.1 322.17L73.3 322.17Z" fill="#27b43a"/>
<path d="M105.3 300.12L107.2 296.89L103.4 296.89Z" fill="#27b43a"/>
<path d="M135.4 324.44L137.3 321.21L133.5 321.21Z" fill="#27b43a"/>
<path d="M165.5 333.4L167.4 330.17L163.6 330.17Z" fill="#27b43a"/>
<path d="M75.2 346.5 L105.3 311.22 L135.4 334.18 L165.5 322.82" fill="none" stroke="#27b43a" stroke-width="1.45" stroke-linejoin="round"/>
<path d="M75.2 348.44L77.1 345.21L73.3 345.21Z" fill="#27b43a"/>
<path d="M105.3 313.16L107.2 309.93L103.4 309.93Z" fill="#27b43a"/>
<path d="M135.4 336.12L137.3 332.89L133.5 332.89Z" fill="#27b43a"/>
<path d="M165.5 324.76L167.4 321.53L163.6 321.53Z" fill="#27b43a"/>
<rect x="229.5" y="246.5" width="58.6" height="22" rx="1.5" fill="none" stroke="#222" stroke-width="1.1" stroke-dasharray="3 2"/>
<text x="258.8" y="260.1" font-size="8.9" text-anchor="middle" fill="#111" stroke="#111" stroke-width="0.18" >CB 5</text>
<rect x="203.6" y="323.9" width="111" height="2" fill="#d4d4d4"/>
<line x1="202.1" y1="269.2" x2="202.1" y2="353.9" stroke="#1e1e1e" stroke-width="1.2" />
<line x1="201.5" y1="353.3" x2="322.3" y2="353.3" stroke="#1e1e1e" stroke-width="1.2" />
<line x1="198.8" y1="353.3" x2="202.1" y2="353.3" stroke="#1e1e1e" stroke-width="1.0" />
<text x="195.8" y="356" font-size="7.5" text-anchor="end" fill="#1a1a1a" stroke="#1a1a1a" stroke-width="0.18" >0</text>
<line x1="198.8" y1="337.3" x2="202.1" y2="337.3" stroke="#1e1e1e" stroke-width="1.0" />
<text x="195.8" y="340" font-size="7.5" text-anchor="end" fill="#1a1a1a" stroke="#1a1a1a" stroke-width="0.18" >20</text>
<line x1="198.8" y1="321.3" x2="202.1" y2="321.3" stroke="#1e1e1e" stroke-width="1.0" />
<text x="195.8" y="324" font-size="7.5" text-anchor="end" fill="#1a1a1a" stroke="#1a1a1a" stroke-width="0.18" >40</text>
<line x1="198.8" y1="305.3" x2="202.1" y2="305.3" stroke="#1e1e1e" stroke-width="1.0" />
<text x="195.8" y="308" font-size="7.5" text-anchor="end" fill="#1a1a1a" stroke="#1a1a1a" stroke-width="0.18" >60</text>
<line x1="198.8" y1="289.3" x2="202.1" y2="289.3" stroke="#1e1e1e" stroke-width="1.0" />
<text x="195.8" y="292" font-size="7.5" text-anchor="end" fill="#1a1a1a" stroke="#1a1a1a" stroke-width="0.18" >80</text>
<line x1="198.8" y1="273.3" x2="202.1" y2="273.3" stroke="#1e1e1e" stroke-width="1.0" />
<text x="195.8" y="276" font-size="7.5" text-anchor="end" fill="#1a1a1a" stroke="#1a1a1a" stroke-width="0.18" >100</text>
<line x1="216.9" y1="353.3" x2="216.9" y2="356" stroke="#1e1e1e" stroke-width="1.0" />
<text x="216.9" y="365" font-size="7.5" text-anchor="middle" fill="#1a1a1a" stroke="#1a1a1a" stroke-width="0.18" >4</text>
<line x1="247" y1="353.3" x2="247" y2="356" stroke="#1e1e1e" stroke-width="1.0" />
<text x="247" y="365" font-size="7.5" text-anchor="middle" fill="#1a1a1a" stroke="#1a1a1a" stroke-width="0.18" >8</text>
<line x1="277.1" y1="353.3" x2="277.1" y2="356" stroke="#1e1e1e" stroke-width="1.0" />
<text x="277.1" y="365" font-size="7.5" text-anchor="middle" fill="#1a1a1a" stroke="#1a1a1a" stroke-width="0.18" >12</text>
<line x1="307.2" y1="353.3" x2="307.2" y2="356" stroke="#1e1e1e" stroke-width="1.0" />
<text x="307.2" y="365" font-size="7.5" text-anchor="middle" fill="#1a1a1a" stroke="#1a1a1a" stroke-width="0.18" >16</text>
<path d="M216.9 336.9 L247 328.58 L277.1 323.78 L307.2 319.7" fill="none" stroke="#c8102e" stroke-width="1.45" stroke-linejoin="round"/>
<circle cx="216.9" cy="336.9" r="1.8" fill="#c8102e"/>
<circle cx="247" cy="328.58" r="1.8" fill="#c8102e"/>
<circle cx="277.1" cy="323.78" r="1.8" fill="#c8102e"/>
<circle cx="307.2" cy="319.7" r="1.8" fill="#c8102e"/>
<path d="M216.9 337.78 L247 329.78 L277.1 324.9 L307.2 328.18" fill="none" stroke="#c8102e" stroke-width="1.45" stroke-linejoin="round"/>
<circle cx="216.9" cy="337.78" r="1.8" fill="#c8102e"/>
<circle cx="247" cy="329.78" r="1.8" fill="#c8102e"/>
<circle cx="277.1" cy="324.9" r="1.8" fill="#c8102e"/>
<circle cx="307.2" cy="328.18" r="1.8" fill="#c8102e"/>
<path d="M216.9 338.98 L247 330.9 L277.1 337.78 L307.2 338.5" fill="none" stroke="#c8102e" stroke-width="1.45" stroke-linejoin="round"/>
<circle cx="216.9" cy="338.98" r="1.8" fill="#c8102e"/>
<circle cx="247" cy="330.9" r="1.8" fill="#c8102e"/>
<circle cx="277.1" cy="337.78" r="1.8" fill="#c8102e"/>
<circle cx="307.2" cy="338.5" r="1.8" fill="#c8102e"/>
<path d="M216.9 340.1 L247 331.7 L277.1 325.78 L307.2 328.18" fill="none" stroke="#c8102e" stroke-width="1.45" stroke-linejoin="round"/>
<circle cx="216.9" cy="340.1" r="1.8" fill="#c8102e"/>
<circle cx="247" cy="331.7" r="1.8" fill="#c8102e"/>
<circle cx="277.1" cy="325.78" r="1.8" fill="#c8102e"/>
<circle cx="307.2" cy="328.18" r="1.8" fill="#c8102e"/>
<circle cx="216.9" cy="344.42" r="1.8" fill="#c8102e"/>
<path d="M216.9 320.18 L247 305.54 L277.1 321.78 L307.2 339.22" fill="none" stroke="#27b43a" stroke-width="1.45" stroke-linejoin="round"/>
<path d="M216.9 322.12L218.8 318.89L215 318.89Z" fill="#27b43a"/>
<path d="M247 307.48L248.9 304.25L245.1 304.25Z" fill="#27b43a"/>
<path d="M277.1 323.72L279 320.49L275.2 320.49Z" fill="#27b43a"/>
<path d="M307.2 341.16L309.1 337.93L305.3 337.93Z" fill="#27b43a"/>
<path d="M216.9 329.78 L247 308.74 L277.1 297.7 L307.2 290.02" fill="none" stroke="#27b43a" stroke-width="1.45" stroke-linejoin="round"/>
<path d="M216.9 331.72L218.8 328.49L215 328.49Z" fill="#27b43a"/>
<path d="M247 310.68L248.9 307.45L245.1 307.45Z" fill="#27b43a"/>
<path d="M277.1 299.64L279 296.41L275.2 296.41Z" fill="#27b43a"/>
<path d="M307.2 291.96L309.1 288.73L305.3 288.73Z" fill="#27b43a"/>
<path d="M216.9 333.38 L247 314.98 L277.1 298.5 L307.2 298.02" fill="none" stroke="#27b43a" stroke-width="1.45" stroke-linejoin="round"/>
<path d="M216.9 335.32L218.8 332.09L215 332.09Z" fill="#27b43a"/>
<path d="M247 316.92L248.9 313.69L245.1 313.69Z" fill="#27b43a"/>
<path d="M277.1 300.44L279 297.21L275.2 297.21Z" fill="#27b43a"/>
<path d="M307.2 299.96L309.1 296.73L305.3 296.73Z" fill="#27b43a"/>
<path d="M216.9 331.14 L247 315.62 L277.1 308.9 L307.2 312.34" fill="none" stroke="#27b43a" stroke-width="1.45" stroke-linejoin="round"/>
<path d="M216.9 333.08L218.8 329.85L215 329.85Z" fill="#27b43a"/>
<path d="M247 317.56L248.9 314.33L245.1 314.33Z" fill="#27b43a"/>
<path d="M277.1 310.84L279 307.61L275.2 307.61Z" fill="#27b43a"/>
<path d="M307.2 314.28L309.1 311.05L305.3 311.05Z" fill="#27b43a"/>
<path d="M216.9 348.36L218.8 345.13L215 345.13Z" fill="#27b43a"/>
<line x1="38.3" y1="112.8" x2="38.3" y2="370.5" stroke="#1e1e1e" stroke-width="1.25" />
<line x1="37.7" y1="370.3" x2="465.8" y2="370.3" stroke="#1e1e1e" stroke-width="1.25" />
<text transform="translate(29.1,242.6) rotate(-90)" font-size="9.15" text-anchor="middle" fill="#111" stroke="#111" stroke-width="0.18">% mCherry<tspan font-size="7.32" dy="-3.48">+</tspan><tspan dy="3.48"> in hCD45</tspan><tspan font-size="7.32" dy="-3.48">+</tspan></text>
<text x="259" y="382.8" font-size="9.0" text-anchor="middle" fill="#111" stroke="#111" stroke-width="0.18" >Weeks</text>
<circle cx="477.6" cy="205.6" r="1.8" fill="#c8102e"/>
<text x="483.5" y="207.7" font-size="7.25" text-anchor="start" fill="#c8102e" stroke="#c8102e" stroke-width="0.18" >shLuc</text>
<path d="M477.6 212.61L479.55 215.93L475.65 215.93Z" fill="#134a86"/>
<text x="483.5" y="216.7" font-size="7.25" text-anchor="start" fill="#134a86" stroke="#134a86" stroke-width="0.18" >shLNK #1</text>
<circle cx="477.6" cy="355" r="1.8" fill="#c8102e"/>
<text x="483.5" y="357.1" font-size="7.25" text-anchor="start" fill="#c8102e" stroke="#c8102e" stroke-width="0.18" >shLuc</text>
<path d="M477.6 365.99L479.55 362.67L475.65 362.67Z" fill="#27b43a"/>
<text x="483.5" y="366.1" font-size="7.25" text-anchor="start" fill="#27b43a" stroke="#27b43a" stroke-width="0.18" >shLNK #2</text>
<line x1="58.4" y1="410" x2="58.4" y2="616.6" stroke="#1e1e1e" stroke-width="1.2" />
<line x1="57.8" y1="616" x2="259.8" y2="616" stroke="#1e1e1e" stroke-width="1.2" />
<line x1="55.1" y1="616" x2="58.4" y2="616" stroke="#1e1e1e" stroke-width="1.0" />
<text x="51.9" y="618.6" font-size="7.3" text-anchor="end" fill="#1a1a1a" stroke="#1a1a1a" stroke-width="0.18" >0</text>
<line x1="55.1" y1="575.64" x2="58.4" y2="575.64" stroke="#1e1e1e" stroke-width="1.0" />
<text x="51.9" y="578.24" font-size="7.3" text-anchor="end" fill="#1a1a1a" stroke="#1a1a1a" stroke-width="0.18" >20</text>
<line x1="55.1" y1="535.28" x2="58.4" y2="535.28" stroke="#1e1e1e" stroke-width="1.0" />
<text x="51.9" y="537.88" font-size="7.3" text-anchor="end" fill="#1a1a1a" stroke="#1a1a1a" stroke-width="0.18" >40</text>
<line x1="55.1" y1="494.92" x2="58.4" y2="494.92" stroke="#1e1e1e" stroke-width="1.0" />
<text x="51.9" y="497.52" font-size="7.3" text-anchor="end" fill="#1a1a1a" stroke="#1a1a1a" stroke-width="0.18" >60</text>
<line x1="55.1" y1="454.56" x2="58.4" y2="454.56" stroke="#1e1e1e" stroke-width="1.0" />
<text x="51.9" y="457.16" font-size="7.3" text-anchor="end" fill="#1a1a1a" stroke="#1a1a1a" stroke-width="0.18" >80</text>
<line x1="55.1" y1="414.2" x2="58.4" y2="414.2" stroke="#1e1e1e" stroke-width="1.0" />
<text x="51.9" y="416.8" font-size="7.3" text-anchor="end" fill="#1a1a1a" stroke="#1a1a1a" stroke-width="0.18" >100</text>
<rect x="63.4" y="589.97" width="8.2" height="26.03" fill="#e07f90" stroke="#c8102e" stroke-opacity="0.22" stroke-width="0.8"/>
<rect x="77.5" y="513.69" width="8.2" height="102.31" fill="#7d9cc0" stroke="#134a86" stroke-opacity="0.22" stroke-width="0.8"/>
<rect x="91.6" y="565.95" width="8.2" height="50.05" fill="#92d69b" stroke="#27b43a" stroke-opacity="0.22" stroke-width="0.8"/>
<line x1="67.5" y1="584.92" x2="67.5" y2="595.01" stroke="#c8102e" stroke-width="1.1" stroke-opacity="0.8"/>
<line x1="65.1" y1="584.92" x2="69.9" y2="584.92" stroke="#c8102e" stroke-width="1.1" stroke-opacity="0.8"/>
<line x1="65.1" y1="595.01" x2="69.9" y2="595.01" stroke="#c8102e" stroke-width="1.1" stroke-opacity="0.8"/>
<circle cx="67.6" cy="570.19" r="1.8" fill="#c8102e"/>
<circle cx="64.5" cy="575.64" r="1.8" fill="#c8102e"/>
<circle cx="66.5" cy="575.64" r="1.8" fill="#c8102e"/>
<circle cx="64.7" cy="580.28" r="1.8" fill="#c8102e"/>
<circle cx="68.9" cy="579.07" r="1.8" fill="#c8102e"/>
<circle cx="70.5" cy="578.06" r="1.8" fill="#c8102e"/>
<circle cx="70.5" cy="582.3" r="1.8" fill="#c8102e"/>
<circle cx="68.7" cy="584.32" r="1.8" fill="#c8102e"/>
<circle cx="68.4" cy="593.2" r="1.8" fill="#c8102e"/>
<circle cx="66.5" cy="595.62" r="1.8" fill="#c8102e"/>
<circle cx="68.7" cy="599.45" r="1.8" fill="#c8102e"/>
<circle cx="67.6" cy="605.3" r="1.8" fill="#c8102e"/>
<circle cx="66.4" cy="615.6" r="1.8" fill="#c8102e"/>
<circle cx="68.9" cy="615.6" r="1.8" fill="#c8102e"/>
<line x1="81.6" y1="499.16" x2="81.6" y2="524.18" stroke="#134a86" stroke-width="1.1" stroke-opacity="0.8"/>
<line x1="79.2" y1="499.16" x2="84" y2="499.16" stroke="#134a86" stroke-width="1.1" stroke-opacity="0.8"/>
<line x1="79.2" y1="524.18" x2="84" y2="524.18" stroke="#134a86" stroke-width="1.1" stroke-opacity="0.8"/>
<path d="M81.5 446.06L83.5 449.46L79.5 449.46Z" fill="#134a86"/>
<path d="M81.5 470.28L83.5 473.68L79.5 473.68Z" fill="#134a86"/>
<path d="M81.5 479.96L83.5 483.36L79.5 483.36Z" fill="#134a86"/>
<path d="M78.7 513.46L80.7 516.86L76.7 516.86Z" fill="#134a86"/>
<path d="M84.7 509.63L86.7 513.03L82.7 513.03Z" fill="#134a86"/>
<path d="M84.4 516.89L86.4 520.29L82.4 520.29Z" fill="#134a86"/>
<path d="M78.9 547.37L80.9 550.77L76.9 550.77Z" fill="#134a86"/>
<path d="M84.5 547.37L86.5 550.77L82.5 550.77Z" fill="#134a86"/>
<path d="M81.7 559.47L83.7 562.87L79.7 562.87Z" fill="#134a86"/>
<line x1="95.7" y1="555.86" x2="95.7" y2="574.43" stroke="#27b43a" stroke-width="1.1" stroke-opacity="0.8"/>
<line x1="93.3" y1="555.86" x2="98.1" y2="555.86" stroke="#27b43a" stroke-width="1.1" stroke-opacity="0.8"/>
<line x1="93.3" y1="574.43" x2="98.1" y2="574.43" stroke="#27b43a" stroke-width="1.1" stroke-opacity="0.8"/>
<path d="M95.3 535.3L97.3 531.9L93.3 531.9Z" fill="#27b43a"/>
<path d="M95.6 542.97L97.6 539.57L93.6 539.57Z" fill="#27b43a"/>
<path d="M92.5 559.72L94.5 556.32L90.5 556.32Z" fill="#27b43a"/>
<path d="M98.7 560.12L100.7 556.72L96.7 556.72Z" fill="#27b43a"/>
<path d="M95.6 568.6L97.6 565.2L93.6 565.2Z" fill="#27b43a"/>
<path d="M92.8 600.48L94.8 597.08L90.8 597.08Z" fill="#27b43a"/>
<path d="M98.4 599.47L100.4 596.07L96.4 596.07Z" fill="#27b43a"/>
<line x1="81.6" y1="616" x2="81.6" y2="618.6" stroke="#1e1e1e" stroke-width="1.0" />
<text x="81.6" y="627.5" font-size="7.5" text-anchor="middle" fill="#1a1a1a" stroke="#1a1a1a" stroke-width="0.18" >4</text>
<rect x="115" y="577.05" width="8.2" height="38.95" fill="#e07f90" stroke="#c8102e" stroke-opacity="0.22" stroke-width="0.8"/>
<rect x="129.1" y="525.19" width="8.2" height="90.81" fill="#7d9cc0" stroke="#134a86" stroke-opacity="0.22" stroke-width="0.8"/>
<rect x="143.2" y="507.03" width="8.2" height="108.97" fill="#92d69b" stroke="#27b43a" stroke-opacity="0.22" stroke-width="0.8"/>
<line x1="119.1" y1="571.2" x2="119.1" y2="582.9" stroke="#c8102e" stroke-width="1.1" stroke-opacity="0.8"/>
<line x1="116.7" y1="571.2" x2="121.5" y2="571.2" stroke="#c8102e" stroke-width="1.1" stroke-opacity="0.8"/>
<line x1="116.7" y1="582.9" x2="121.5" y2="582.9" stroke="#c8102e" stroke-width="1.1" stroke-opacity="0.8"/>
<circle cx="119.3" cy="550.62" r="1.8" fill="#c8102e"/>
<circle cx="118.4" cy="555.46" r="1.8" fill="#c8102e"/>
<circle cx="120" cy="554.65" r="1.8" fill="#c8102e"/>
<circle cx="119.3" cy="561.31" r="1.8" fill="#c8102e"/>
<circle cx="119.3" cy="567.57" r="1.8" fill="#c8102e"/>
<circle cx="116.3" cy="575.64" r="1.8" fill="#c8102e"/>
<circle cx="118.6" cy="578.06" r="1.8" fill="#c8102e"/>
<circle cx="120.4" cy="579.07" r="1.8" fill="#c8102e"/>
<circle cx="122.3" cy="578.06" r="1.8" fill="#c8102e"/>
<circle cx="118.4" cy="600.26" r="1.8" fill="#c8102e"/>
<circle cx="120" cy="601.27" r="1.8" fill="#c8102e"/>
<circle cx="119.3" cy="612.97" r="1.8" fill="#c8102e"/>
<line x1="133.2" y1="512.68" x2="133.2" y2="537.9" stroke="#134a86" stroke-width="1.1" stroke-opacity="0.8"/>
<line x1="130.8" y1="512.68" x2="135.6" y2="512.68" stroke="#134a86" stroke-width="1.1" stroke-opacity="0.8"/>
<line x1="130.8" y1="537.9" x2="135.6" y2="537.9" stroke="#134a86" stroke-width="1.1" stroke-opacity="0.8"/>
<path d="M133.1 476.33L135.1 479.73L131.1 479.73Z" fill="#134a86"/>
<path d="M133.1 485.01L135.1 488.41L131.1 488.41Z" fill="#134a86"/>
<path d="M133.1 491.27L135.1 494.67L131.1 494.67Z" fill="#134a86"/>
<path d="M133.1 507.01L135.1 510.41L131.1 510.41Z" fill="#134a86"/>
<path d="M133.4 528.8L135.4 532.2L131.4 532.2Z" fill="#134a86"/>
<path d="M130.5 536.67L132.5 540.07L128.5 540.07Z" fill="#134a86"/>
<path d="M136.1 535.46L138.1 538.86L134.1 538.86Z" fill="#134a86"/>
<path d="M133.4 564.52L135.4 567.92L131.4 567.92Z" fill="#134a86"/>
<path d="M133.4 579.45L135.4 582.85L131.4 582.85Z" fill="#134a86"/>
<line x1="147.3" y1="499.56" x2="147.3" y2="513.28" stroke="#27b43a" stroke-width="1.1" stroke-opacity="0.8"/>
<line x1="144.9" y1="499.56" x2="149.7" y2="499.56" stroke="#27b43a" stroke-width="1.1" stroke-opacity="0.8"/>
<line x1="144.9" y1="513.28" x2="149.7" y2="513.28" stroke="#27b43a" stroke-width="1.1" stroke-opacity="0.8"/>
<path d="M147.1 479.4L149.1 476L145.1 476Z" fill="#27b43a"/>
<path d="M147.1 498.57L149.1 495.17L145.1 495.17Z" fill="#27b43a"/>
<path d="M147.1 508.46L149.1 505.06L145.1 505.06Z" fill="#27b43a"/>
<path d="M147.1 512.1L149.1 508.69L145.1 508.69Z" fill="#27b43a"/>
<path d="M144.7 525.01L146.7 521.61L142.7 521.61Z" fill="#27b43a"/>
<path d="M149.9 523.4L151.9 520L147.9 520Z" fill="#27b43a"/>
<line x1="133.2" y1="616" x2="133.2" y2="618.6" stroke="#1e1e1e" stroke-width="1.0" />
<text x="133.2" y="627.5" font-size="7.5" text-anchor="middle" fill="#1a1a1a" stroke="#1a1a1a" stroke-width="0.18" >8</text>
<rect x="166.5" y="577.05" width="8.2" height="38.95" fill="#e07f90" stroke="#c8102e" stroke-opacity="0.22" stroke-width="0.8"/>
<rect x="180.6" y="505.01" width="8.2" height="110.99" fill="#7d9cc0" stroke="#134a86" stroke-opacity="0.22" stroke-width="0.8"/>
<rect x="194.7" y="518.33" width="8.2" height="97.67" fill="#92d69b" stroke="#27b43a" stroke-opacity="0.22" stroke-width="0.8"/>
<line x1="170.6" y1="569.38" x2="170.6" y2="583.31" stroke="#c8102e" stroke-width="1.1" stroke-opacity="0.8"/>
<line x1="168.2" y1="569.38" x2="173" y2="569.38" stroke="#c8102e" stroke-width="1.1" stroke-opacity="0.8"/>
<line x1="168.2" y1="583.31" x2="173" y2="583.31" stroke="#c8102e" stroke-width="1.1" stroke-opacity="0.8"/>
<circle cx="170.9" cy="542.75" r="1.8" fill="#c8102e"/>
<circle cx="167.7" cy="546.78" r="1.8" fill="#c8102e"/>
<circle cx="171.1" cy="547.59" r="1.8" fill="#c8102e"/>
<circle cx="170.8" cy="555.46" r="1.8" fill="#c8102e"/>
<circle cx="170.8" cy="565.35" r="1.8" fill="#c8102e"/>
<circle cx="167.7" cy="571.2" r="1.8" fill="#c8102e"/>
<circle cx="173.6" cy="573.22" r="1.8" fill="#c8102e"/>
<circle cx="170.9" cy="576.85" r="1.8" fill="#c8102e"/>
<circle cx="170.9" cy="580.68" r="1.8" fill="#c8102e"/>
<circle cx="170.8" cy="599.05" r="1.8" fill="#c8102e"/>
<circle cx="167.7" cy="610.96" r="1.8" fill="#c8102e"/>
<circle cx="170.8" cy="610.96" r="1.8" fill="#c8102e"/>
<circle cx="173.6" cy="610.96" r="1.8" fill="#c8102e"/>
<line x1="184.7" y1="490.08" x2="184.7" y2="518.33" stroke="#134a86" stroke-width="1.1" stroke-opacity="0.8"/>
<line x1="182.3" y1="490.08" x2="187.1" y2="490.08" stroke="#134a86" stroke-width="1.1" stroke-opacity="0.8"/>
<line x1="182.3" y1="518.33" x2="187.1" y2="518.33" stroke="#134a86" stroke-width="1.1" stroke-opacity="0.8"/>
<path d="M184.7 443.24L186.7 446.64L182.7 446.64Z" fill="#134a86"/>
<path d="M184.7 464.43L186.7 467.83L182.7 467.83Z" fill="#134a86"/>
<path d="M184.7 470.28L186.7 473.68L182.7 473.68Z" fill="#134a86"/>
<path d="M184.7 491.67L186.7 495.07L182.7 495.07Z" fill="#134a86"/>
<path d="M184.7 496.92L186.7 500.32L182.7 500.32Z" fill="#134a86"/>
<path d="M184.7 503.98L186.7 507.38L182.7 507.38Z" fill="#134a86"/>
<path d="M184.7 530.41L186.7 533.81L182.7 533.81Z" fill="#134a86"/>
<path d="M184.7 554.63L186.7 558.03L182.7 558.03Z" fill="#134a86"/>
<path d="M184.7 569.36L186.7 572.76L182.7 572.76Z" fill="#134a86"/>
<line x1="198.8" y1="502.79" x2="198.8" y2="532.45" stroke="#27b43a" stroke-width="1.1" stroke-opacity="0.8"/>
<line x1="196.4" y1="502.79" x2="201.2" y2="502.79" stroke="#27b43a" stroke-width="1.1" stroke-opacity="0.8"/>
<line x1="196.4" y1="532.45" x2="201.2" y2="532.45" stroke="#27b43a" stroke-width="1.1" stroke-opacity="0.8"/>
<path d="M195.8 479.81L197.8 476.41L193.8 476.41Z" fill="#27b43a"/>
<path d="M201.8 479L203.8 475.6L199.8 475.6Z" fill="#27b43a"/>
<path d="M198.9 507.05L200.9 503.65L196.9 503.65Z" fill="#27b43a"/>
<path d="M195.8 539.74L197.8 536.34L193.8 536.34Z" fill="#27b43a"/>
<path d="M201.8 539.74L203.8 536.34L199.8 536.34Z" fill="#27b43a"/>
<path d="M198.9 570.01L200.9 566.61L196.9 566.61Z" fill="#27b43a"/>
<line x1="184.7" y1="616" x2="184.7" y2="618.6" stroke="#1e1e1e" stroke-width="1.0" />
<text x="184.7" y="627.5" font-size="7.5" text-anchor="middle" fill="#1a1a1a" stroke="#1a1a1a" stroke-width="0.18" >12</text>
<rect x="218.1" y="574.43" width="8.2" height="41.57" fill="#e07f90" stroke="#c8102e" stroke-opacity="0.22" stroke-width="0.8"/>
<rect x="232.2" y="498.75" width="8.2" height="117.25" fill="#7d9cc0" stroke="#134a86" stroke-opacity="0.22" stroke-width="0.8"/>
<rect x="246.3" y="522.97" width="8.2" height="93.03" fill="#92d69b" stroke="#27b43a" stroke-opacity="0.22" stroke-width="0.8"/>
<line x1="222.2" y1="564.14" x2="222.2" y2="582.1" stroke="#c8102e" stroke-width="1.1" stroke-opacity="0.8"/>
<line x1="219.8" y1="564.14" x2="224.6" y2="564.14" stroke="#c8102e" stroke-width="1.1" stroke-opacity="0.8"/>
<line x1="219.8" y1="582.1" x2="224.6" y2="582.1" stroke="#c8102e" stroke-width="1.1" stroke-opacity="0.8"/>
<circle cx="222.4" cy="507.43" r="1.8" fill="#c8102e"/>
<circle cx="222.4" cy="531.24" r="1.8" fill="#c8102e"/>
<circle cx="222.4" cy="545.17" r="1.8" fill="#c8102e"/>
<circle cx="222.4" cy="552.23" r="1.8" fill="#c8102e"/>
<circle cx="222.4" cy="562.93" r="1.8" fill="#c8102e"/>
<circle cx="222.4" cy="574.43" r="1.8" fill="#c8102e"/>
<circle cx="220.9" cy="578.67" r="1.8" fill="#c8102e"/>
<circle cx="223.8" cy="579.27" r="1.8" fill="#c8102e"/>
<circle cx="222.4" cy="587.14" r="1.8" fill="#c8102e"/>
<circle cx="222.4" cy="598.24" r="1.8" fill="#c8102e"/>
<circle cx="222.4" cy="612.37" r="1.8" fill="#c8102e"/>
<circle cx="225.1" cy="613.98" r="1.8" fill="#c8102e"/>
<circle cx="219.3" cy="614.99" r="1.8" fill="#c8102e"/>
<line x1="236.3" y1="483.42" x2="236.3" y2="511.47" stroke="#134a86" stroke-width="1.1" stroke-opacity="0.8"/>
<line x1="233.9" y1="483.42" x2="238.7" y2="483.42" stroke="#134a86" stroke-width="1.1" stroke-opacity="0.8"/>
<line x1="233.9" y1="511.47" x2="238.7" y2="511.47" stroke="#134a86" stroke-width="1.1" stroke-opacity="0.8"/>
<path d="M236.3 428.1L238.3 431.5L234.3 431.5Z" fill="#134a86"/>
<path d="M236.3 467.86L238.3 471.26L234.3 471.26Z" fill="#134a86"/>
<path d="M236.3 476.53L238.3 479.93L234.3 479.93Z" fill="#134a86"/>
<path d="M236.3 481.38L238.3 484.78L234.3 484.78Z" fill="#134a86"/>
<path d="M233.5 490.66L235.5 494.06L231.5 494.06Z" fill="#134a86"/>
<path d="M239.3 492.88L241.3 496.28L237.3 496.28Z" fill="#134a86"/>
<path d="M233.5 531.83L235.5 535.23L231.5 535.23Z" fill="#134a86"/>
<path d="M239.3 532.43L241.3 535.83L237.3 535.83Z" fill="#134a86"/>
<path d="M236.3 565.93L238.3 569.33L234.3 569.33Z" fill="#134a86"/>
<line x1="250.4" y1="502.59" x2="250.4" y2="541.54" stroke="#27b43a" stroke-width="1.1" stroke-opacity="0.8"/>
<line x1="248" y1="502.59" x2="252.8" y2="502.59" stroke="#27b43a" stroke-width="1.1" stroke-opacity="0.8"/>
<line x1="248" y1="541.54" x2="252.8" y2="541.54" stroke="#27b43a" stroke-width="1.1" stroke-opacity="0.8"/>
<path d="M250.4 459.43L252.4 456.03L248.4 456.03Z" fill="#27b43a"/>
<path d="M250.4 478.8L252.4 475.4L248.4 475.4Z" fill="#27b43a"/>
<path d="M250.4 515.32L252.4 511.92L248.4 511.92Z" fill="#27b43a"/>
<path d="M250.4 541.36L252.4 537.96L248.4 537.96Z" fill="#27b43a"/>
<path d="M250.4 563.35L252.4 559.95L248.4 559.95Z" fill="#27b43a"/>
<path d="M250.4 583.53L252.4 580.13L248.4 580.13Z" fill="#27b43a"/>
<line x1="236.3" y1="616" x2="236.3" y2="618.6" stroke="#1e1e1e" stroke-width="1.0" />
<text x="236.3" y="627.5" font-size="7.5" text-anchor="middle" fill="#1a1a1a" stroke="#1a1a1a" stroke-width="0.18" >16</text>
<path d="M67.5 410.2V405.8H95.7V529.4" fill="none" stroke="#222" stroke-width="1.05"/>
<path d="M67.5 565.5V420.6H81.6V443.3" fill="none" stroke="#222" stroke-width="1.05"/>
<path d="M71.3 414.2L71.3 417.4M72.69 415L69.91 416.6M72.69 416.6L69.91 415M74.55 414.2L74.55 417.4M75.94 415L73.16 416.6M75.94 416.6L73.16 415M77.8 414.2L77.8 417.4M79.19 415L76.41 416.6M79.19 416.6L76.41 415" stroke="#111" stroke-width="0.95" fill="none"/>
<text x="81.6" y="403" font-size="6.6" text-anchor="middle" fill="#222" stroke="#222" stroke-width="0.18" >ns</text>
<path d="M119.1 410.2V405.8H147.3V473" fill="none" stroke="#222" stroke-width="1.05"/>
<path d="M119.1 545.6V420.6H133.2V472.7" fill="none" stroke="#222" stroke-width="1.05"/>
<path d="M122.9 414.2L122.9 417.4M124.29 415L121.51 416.6M124.29 416.6L121.51 415M126.15 414.2L126.15 417.4M127.54 415L124.76 416.6M127.54 416.6L124.76 415M129.4 414.2L129.4 417.4M130.79 415L128.01 416.6M130.79 416.6L128.01 415" stroke="#111" stroke-width="0.95" fill="none"/>
<path d="M129.95 399L129.95 402.2M131.34 399.8L128.56 401.4M131.34 401.4L128.56 399.8M133.2 399L133.2 402.2M134.59 399.8L131.81 401.4M134.59 401.4L131.81 399.8M136.45 399L136.45 402.2M137.84 399.8L135.06 401.4M137.84 401.4L135.06 399.8" stroke="#111" stroke-width="0.95" fill="none"/>
<path d="M170.6 410.2V405.8H198.8V472.6" fill="none" stroke="#222" stroke-width="1.05"/>
<path d="M170.6 538.2V420.6H184.7V439.7" fill="none" stroke="#222" stroke-width="1.05"/>
<path d="M174.4 414.2L174.4 417.4M175.79 415L173.01 416.6M175.79 416.6L173.01 415M177.65 414.2L177.65 417.4M179.04 415L176.26 416.6M179.04 416.6L176.26 415M180.9 414.2L180.9 417.4M182.29 415L179.51 416.6M182.29 416.6L179.51 415" stroke="#111" stroke-width="0.95" fill="none"/>
<path d="M181.45 399L181.45 402.2M182.84 399.8L180.06 401.4M182.84 401.4L180.06 399.8M184.7 399L184.7 402.2M186.09 399.8L183.31 401.4M186.09 401.4L183.31 399.8M187.95 399L187.95 402.2M189.34 399.8L186.56 401.4M189.34 401.4L186.56 399.8" stroke="#111" stroke-width="0.95" fill="none"/>
<path d="M222.2 410.2V405.8H250.4V452.8" fill="none" stroke="#222" stroke-width="1.05"/>
<path d="M222.2 502.8V420.6H236.3V424.7" fill="none" stroke="#222" stroke-width="1.05"/>
<path d="M226 414.2L226 417.4M227.39 415L224.61 416.6M227.39 416.6L224.61 415M229.25 414.2L229.25 417.4M230.64 415L227.86 416.6M230.64 416.6L227.86 415M232.5 414.2L232.5 417.4M233.89 415L231.11 416.6M233.89 416.6L231.11 415" stroke="#111" stroke-width="0.95" fill="none"/>
<path d="M234.68 399L234.68 402.2M236.06 399.8L233.29 401.4M236.06 401.4L233.29 399.8M237.93 399L237.93 402.2M239.31 399.8L236.54 401.4M239.31 401.4L236.54 399.8" stroke="#111" stroke-width="0.95" fill="none"/>
<text transform="translate(33.3,514.5) rotate(-90)" font-size="9.15" text-anchor="middle" fill="#111" stroke="#111" stroke-width="0.18">% mCherry<tspan font-size="7.32" dy="-3.48">+</tspan><tspan dy="3.48"> in hCD45</tspan><tspan font-size="7.32" dy="-3.48">+</tspan></text>
<text x="158" y="640.3" font-size="9.0" text-anchor="middle" fill="#111" stroke="#111" stroke-width="0.18" >Weeks</text>
<line x1="307.8" y1="410.5" x2="307.8" y2="616.1" stroke="#1e1e1e" stroke-width="1.2" />
<line x1="307.2" y1="615.5" x2="348.5" y2="615.5" stroke="#1e1e1e" stroke-width="1.2" />
<line x1="304.5" y1="615.5" x2="307.8" y2="615.5" stroke="#1e1e1e" stroke-width="1.0" />
<text x="301.2" y="618.1" font-size="7.3" text-anchor="end" fill="#1a1a1a" stroke="#1a1a1a" stroke-width="0.18" >0</text>
<line x1="304.5" y1="575.3" x2="307.8" y2="575.3" stroke="#1e1e1e" stroke-width="1.0" />
<text x="301.2" y="577.9" font-size="7.3" text-anchor="end" fill="#1a1a1a" stroke="#1a1a1a" stroke-width="0.18" >20</text>
<line x1="304.5" y1="535.1" x2="307.8" y2="535.1" stroke="#1e1e1e" stroke-width="1.0" />
<text x="301.2" y="537.7" font-size="7.3" text-anchor="end" fill="#1a1a1a" stroke="#1a1a1a" stroke-width="0.18" >40</text>
<line x1="304.5" y1="494.9" x2="307.8" y2="494.9" stroke="#1e1e1e" stroke-width="1.0" />
<text x="301.2" y="497.5" font-size="7.3" text-anchor="end" fill="#1a1a1a" stroke="#1a1a1a" stroke-width="0.18" >60</text>
<line x1="304.5" y1="454.7" x2="307.8" y2="454.7" stroke="#1e1e1e" stroke-width="1.0" />
<text x="301.2" y="457.3" font-size="7.3" text-anchor="end" fill="#1a1a1a" stroke="#1a1a1a" stroke-width="0.18" >80</text>
<line x1="304.5" y1="414.5" x2="307.8" y2="414.5" stroke="#1e1e1e" stroke-width="1.0" />
<text x="301.2" y="417.1" font-size="7.3" text-anchor="end" fill="#1a1a1a" stroke="#1a1a1a" stroke-width="0.18" >100</text>
<line x1="328.3" y1="615.5" x2="328.3" y2="618.1" stroke="#1e1e1e" stroke-width="1.0" />
<text x="328.4" y="627.3" font-size="7.3" text-anchor="middle" fill="#1a1a1a" stroke="#1a1a1a" stroke-width="0.18" >16</text>
<rect x="314.2" y="576.91" width="10.6" height="38.59" fill="#e07f90" stroke="#c8102e" stroke-opacity="0.22" stroke-width="0.8"/>
<rect x="332" y="503.14" width="10.4" height="112.36" fill="#ab92c3" stroke="#4b1d6e" stroke-opacity="0.22" stroke-width="0.8"/>
<line x1="319.6" y1="565.25" x2="319.6" y2="586.76" stroke="#c8102e" stroke-width="1.1" stroke-opacity="0.8"/>
<line x1="317.1" y1="565.25" x2="322.1" y2="565.25" stroke="#c8102e" stroke-width="1.1" stroke-opacity="0.8"/>
<line x1="317.1" y1="586.76" x2="322.1" y2="586.76" stroke="#c8102e" stroke-width="1.1" stroke-opacity="0.8"/>
<line x1="337.3" y1="486.86" x2="337.3" y2="518.01" stroke="#4b1d6e" stroke-width="1.1" stroke-opacity="0.8"/>
<line x1="334.8" y1="486.86" x2="339.8" y2="486.86" stroke="#4b1d6e" stroke-width="1.1" stroke-opacity="0.8"/>
<line x1="334.8" y1="518.01" x2="339.8" y2="518.01" stroke="#4b1d6e" stroke-width="1.1" stroke-opacity="0.8"/>
<circle cx="319.5" cy="527.06" r="1.8" fill="#c8102e"/>
<circle cx="319.5" cy="535.5" r="1.8" fill="#c8102e"/>
<circle cx="319.5" cy="541.13" r="1.8" fill="#c8102e"/>
<circle cx="319.5" cy="573.29" r="1.8" fill="#c8102e"/>
<circle cx="319.5" cy="593.39" r="1.8" fill="#c8102e"/>
<circle cx="319.5" cy="597.41" r="1.8" fill="#c8102e"/>
<circle cx="319.5" cy="601.23" r="1.8" fill="#c8102e"/>
<circle cx="319.5" cy="605.45" r="1.8" fill="#c8102e"/>
<circle cx="319.5" cy="609.47" r="1.8" fill="#c8102e"/>
<path d="M337.2 453.76L339.15 455.71L337.2 457.66L335.25 455.71Z" fill="#4b1d6e"/>
<path d="M333.1 464.81L335.05 466.76L333.1 468.71L331.15 466.76Z" fill="#4b1d6e"/>
<path d="M341.2 467.82L343.15 469.77L341.2 471.72L339.25 469.77Z" fill="#4b1d6e"/>
<path d="M337.3 477.27L339.25 479.22L337.3 481.17L335.35 479.22Z" fill="#4b1d6e"/>
<path d="M337.3 493.55L339.25 495.5L337.3 497.45L335.35 495.5Z" fill="#4b1d6e"/>
<path d="M337.3 528.73L339.25 530.68L337.3 532.63L335.35 530.68Z" fill="#4b1d6e"/>
<path d="M337.3 537.57L339.25 539.52L337.3 541.47L335.35 539.52Z" fill="#4b1d6e"/>
<path d="M336.9 578.78L338.85 580.73L336.9 582.68L334.95 580.73Z" fill="#4b1d6e"/>
<path d="M319.4 522.3V447.4H337.3V451.5" fill="none" stroke="#222" stroke-width="1.05"/>
<path d="M326.7 438.65L326.7 442.55M328.39 439.62L325.01 441.58M328.39 441.58L325.01 439.62M331.1 438.65L331.1 442.55M332.79 439.62L329.41 441.58M332.79 441.58L329.41 439.62" stroke="#111" stroke-width="1.0" fill="none"/>
<text transform="translate(280.6,517.6) rotate(-90)" font-size="7.9" text-anchor="middle" fill="#111" stroke="#111" stroke-width="0.18">% mCherry<tspan font-size="6.32" dy="-3">+</tspan><tspan dy="3"> in hCD45</tspan><tspan font-size="6.32" dy="-3">+</tspan></text>
<circle cx="361.3" cy="585.5" r="1.8" fill="#c8102e"/>
<text x="367.2" y="587.6" font-size="7.25" text-anchor="start" fill="#c8102e" stroke="#c8102e" stroke-width="0.18" >shLuc</text>
<path d="M361.3 592.21L363.25 595.53L359.35 595.53Z" fill="#134a86"/>
<text x="367.2" y="596.3" font-size="7.25" text-anchor="start" fill="#134a86" stroke="#134a86" stroke-width="0.18" >shLNK #1</text>
<path d="M361.3 604.89L363.25 601.57L359.35 601.57Z" fill="#27b43a"/>
<text x="367.2" y="605" font-size="7.25" text-anchor="start" fill="#27b43a" stroke="#27b43a" stroke-width="0.18" >shLNK #2</text>
<path d="M361.3 609.65L363.25 611.6L361.3 613.55L359.35 611.6Z" fill="#4b1d6e"/>
<text x="367.2" y="613.7" font-size="7.25" text-anchor="start" fill="#4b1d6e" stroke="#4b1d6e" stroke-width="0.18" >shLNK #3</text>
</svg>
</body></html>
